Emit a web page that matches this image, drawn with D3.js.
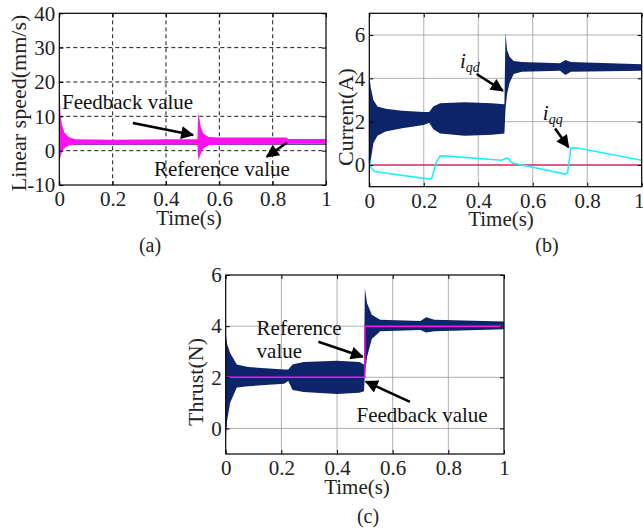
<!DOCTYPE html>
<html lang="en">
<head>
<meta charset="UTF-8">
<title>Speed, current and thrust response</title>
<script src="https://d3js.org/d3.v7.min.js"></script>
<style>
  body { margin: 0; background: #fff; }
  svg { display: block; }
  svg text { font-family: "Liberation Serif", "Times New Roman", Tinos, "DejaVu Serif", serif; }
</style>
</head>
<body>
<svg id="fig" width="643" height="530"></svg>
<script>
// values; ripple bands are kept as envelopes [t, upper, lower]
const timeTicks = [0, 0.2, 0.4, 0.6, 0.8, 1];
const speedTicks = [-10, 0, 10, 20, 30, 40];
const currentTicks = [0, 2, 4, 6];
const thrustTicks = [0, 2, 4, 6];

const speedFeedback = [
  [0, 15.5, -2.8], [0.002, 15, -2.6], [0.005, 10, -1.5], [0.01, 7.5, -0.3], [0.02, 5.2, 0.8],
  [0.035, 4.0, 1.5], [0.06, 3.3, 1.8], [0.2, 3.2, 1.8], [0.4, 3.3, 1.8], [0.518, 3.3, 1.8],
  [0.521, 11, -2.7], [0.524, 10, -2.2], [0.53, 7, -1], [0.54, 5, 0.6], [0.56, 4.0, 1.6],
  [0.6, 3.8, 1.8], [0.85, 3.8, 1.8], [0.86, 3.4, 2.1], [1, 3.4, 2.1]
];
const speedRef = [[0, 1.9], [1, 1.9]];

const iqd = [
  [0, 4.15, -0.4], [0.005, 3.6, 0.2], [0.015, 3.0, 1.0], [0.03, 2.7, 1.35], [0.06, 2.6, 1.55],
  [0.12, 2.5, 1.7], [0.2, 2.45, 1.85], [0.22, 2.45, 1.95], [0.235, 2.7, 1.65], [0.26, 2.85, 1.45],
  [0.35, 2.9, 1.35], [0.45, 2.85, 1.4], [0.496, 2.8, 1.45], [0.5, 6.1, 2.6], [0.506, 5.3, 3.3],
  [0.515, 5.0, 3.8], [0.53, 4.8, 4.2], [0.56, 4.75, 4.3], [0.7, 4.7, 4.35], [0.72, 4.85, 4.15],
  [0.74, 4.75, 4.3], [1, 4.65, 4.35]
];
const iqq = [
  [0, 0.3], [0.005, -0.1], [0.02, -0.3], [0.22, -0.65], [0.23, -0.6], [0.245, 0.1], [0.26, 0.42],
  [0.3, 0.4], [0.485, 0.22], [0.5, 0.3], [0.51, 0.32], [0.52, 0.15], [0.53, 0.08], [0.72, -0.42],
  [0.728, -0.35], [0.74, 0.78], [0.76, 0.8], [1, 0.22]
];
const iqqRef = [[0, 0], [1, 0]];

const thrust = [
  [0, 3.75, -0.4], [0.005, 3.3, 0.3], [0.016, 2.95, 1.0], [0.04, 2.5, 1.6], [0.08, 2.4, 1.65],
  [0.21, 2.3, 1.75], [0.225, 2.3, 1.85], [0.24, 2.5, 1.5], [0.28, 2.6, 1.42], [0.4, 2.65, 1.35],
  [0.48, 2.6, 1.4], [0.497, 2.5, 1.45], [0.5, 5.48, 2.1], [0.508, 4.9, 2.8], [0.525, 4.45, 3.5],
  [0.555, 4.25, 3.8], [0.7, 4.2, 3.85], [0.72, 4.35, 3.75], [0.75, 4.25, 3.8], [1, 4.18, 3.88]
];
const thrustRef = [[0, 2], [0.5, 4], [1, 4]];

const navy = "#0d2468", magenta = "#ff10f0", cyan = "#1ff0f8", crimson = "#e8306a";
const serif = '"Liberation Serif", "Times New Roman", Tinos, "DejaVu Serif", serif';

const svg = d3.select("#fig");

svg.append("defs").append("marker")
  .attr("id", "head").attr("viewBox", "0 0 10 10")
  .attr("refX", 9).attr("refY", 5)
  .attr("markerWidth", 15).attr("markerHeight", 13)
  .attr("markerUnits", "userSpaceOnUse").attr("orient", "auto")
  .append("path").attr("d", "M0,0L10,5L0,10Z").attr("fill", "#000");

function panel(p) {
  const x = d3.scaleLinear().domain([0, 1]).range([p.left, p.right]);
  const y = d3.scaleLinear().domain(p.yDomain).range([p.bottom, p.top]);
  const g = svg.append("g");

  // grid
  const grid = g.append("g").attr("stroke", p.dashed ? "#000" : "#9a9a9a")
    .attr("stroke-width", p.dashed ? 0.9 : 0.8)
    .attr("stroke-dasharray", p.dashed ? "4,3" : null);
  grid.selectAll(".gx").data(timeTicks.slice(1, -1)).join("line")
    .attr("x1", d => x(d)).attr("x2", d => x(d)).attr("y1", p.top).attr("y2", p.bottom);
  grid.selectAll(".gy").data(p.yTicks.filter(d => d > p.yDomain[0] && d < p.yDomain[1])).join("line")
    .attr("y1", d => y(d)).attr("y2", d => y(d)).attr("x1", p.left).attr("x2", p.right);

  p.draw(g, x, y);

  // frame with inward ticks on all sides
  g.append("rect").attr("x", p.left).attr("y", p.top)
    .attr("width", p.right - p.left).attr("height", p.bottom - p.top)
    .attr("fill", "none").attr("stroke", "#000").attr("stroke-width", 1.2);
  const axes = [
    [d3.axisBottom(x).tickValues(timeTicks).tickFormat(d => String(d)), `translate(0,${p.bottom})`, "b"],
    [d3.axisTop(x).tickValues(timeTicks).tickFormat(""), `translate(0,${p.top})`, "t"],
    [d3.axisLeft(y).tickValues(p.yTicks).tickFormat(d => String(d)), `translate(${p.left},0)`, "l"],
    [d3.axisRight(y).tickValues(p.yTicks).tickFormat(""), `translate(${p.right},0)`, "r"]
  ];
  axes.forEach(([ax, tr, side]) => {
    const a = g.append("g").attr("transform", tr).call(ax.tickSize(-4).tickPadding(0));
    a.select(".domain").remove();
    a.attr("font-family", serif);
    a.selectAll("line").attr("stroke", "#000");
    a.selectAll("text").attr("font-family", serif).attr("font-size", 21).attr("fill", "#222");
    if (side === "b") {
      a.selectAll("text").attr("y", 6).attr("dy", "0.71em");
      // last label sits right at the window edge, as in the original
      if (p.lastShift) a.selectAll("text").filter(d => d === 1).attr("x", p.lastShift);
    }
    if (side === "l") a.selectAll("text").attr("x", -4);
  });

  // axis titles
  g.append("text").attr("x", p.xTitleX).attr("y", p.xTitleY).attr("text-anchor", "middle")
    .attr("font-family", serif).attr("font-size", 21).attr("fill", "#222").text("Time(s)");
  g.append("text").attr("transform", `translate(${p.yTitleX},${p.yTitleY}) rotate(-90)`)
    .attr("text-anchor", "middle").attr("font-family", serif).attr("font-size", 22).attr("fill", "#222").text(p.yTitle);
  g.append("text").attr("x", p.capX).attr("y", p.capY).attr("text-anchor", "middle")
    .attr("font-family", serif).attr("font-size", 20).attr("fill", "#222").text(p.caption);

  // annotations
  (p.notes || []).forEach(n => {
    const t = g.append("text").attr("x", x(n.t)).attr("y", y(n.v))
      .attr("font-family", serif).attr("font-size", 21).attr("fill", "#111");
    if (n.sub) {
      t.append("tspan").attr("font-style", "italic").text(n.text);
      t.append("tspan").attr("font-style", "italic").attr("font-size", 14).attr("dy", 4).text(n.sub);
    } else t.text(n.text);
  });
  (p.arrows || []).forEach(a => {
    g.append("line").attr("x1", x(a[0])).attr("y1", y(a[1])).attr("x2", x(a[2])).attr("y2", y(a[3]))
      .attr("stroke", "#000").attr("stroke-width", 2.6).attr("marker-end", "url(#head)");
  });
}

const band = (x, y) => d3.area().x(d => x(d[0])).y0(d => y(d[2])).y1(d => y(d[1]));
const line = (x, y) => d3.line().x(d => x(d[0])).y(d => y(d[1]));

// (a) linear speed
panel({
  left: 59.3, right: 326, top: 13.3, bottom: 185, yDomain: [-10, 40], yTicks: speedTicks, dashed: true,
  yTitle: "Linear speed(mm/s)", yTitleX: 26, yTitleY: 103, xTitleX: 189, xTitleY: 225,
  caption: "(a)", capX: 150, capY: 252,
  notes: [{ text: "Feedback value", t: 0.01, v: 12.1 }, { text: "Reference value", t: 0.355, v: -7.4 }],
  arrows: [[0.276, 8.05, 0.501, 4.56], [0.853, 2.3, 0.778, -1.76]],
  draw: (g, x, y) => {
    g.append("path").datum(speedRef).attr("d", line(x, y)).attr("fill", "none").attr("stroke", navy).attr("stroke-width", 1.4);
    g.append("path").datum(speedFeedback).attr("d", band(x, y)).attr("fill", magenta);
  }
});

// (b) currents
panel({
  left: 369.3, right: 641.7, top: 13.3, bottom: 186.7, yDomain: [-1, 7], yTicks: currentTicks, dashed: false,
  yTitle: "Current(A)", yTitleX: 353, yTitleY: 117, xTitleX: 501, xTitleY: 226, lastShift: -3,
  caption: "(b)", capX: 547, capY: 252,
  notes: [{ text: "i", sub: "qd", t: 0.333, v: 4.47 }, { text: "i", sub: "qq", t: 0.637, v: 2.08 }],
  arrows: [[0.394, 4.2, 0.49, 3.43], [0.682, 1.69, 0.731, 0.82]],
  draw: (g, x, y) => {
    g.append("path").datum(iqd).attr("d", band(x, y)).attr("fill", navy);
    g.append("path").datum(iqqRef).attr("d", line(x, y)).attr("fill", "none").attr("stroke", crimson).attr("stroke-width", 1.5);
    g.append("path").datum(iqq).attr("d", line(x, y)).attr("fill", "none").attr("stroke", cyan).attr("stroke-width", 1.6);
  }
});

// (c) thrust
panel({
  left: 225.7, right: 504, top: 275, bottom: 454, yDomain: [-1, 6], yTicks: thrustTicks, dashed: false,
  yTitle: "Thrust(N)", yTitleX: 203, yTitleY: 382, xTitleX: 357, xTitleY: 494,
  caption: "(c)", capX: 368, capY: 523,
  notes: [{ text: "Reference", t: 0.111, v: 3.65 }, { text: "value", t: 0.111, v: 2.75 },
          { text: "Feedback value", t: 0.47, v: 0.26 }],
  arrows: [[0.333, 3.39, 0.492, 2.8], [0.662, 1.04, 0.504, 1.83]],
  draw: (g, x, y) => {
    g.append("path").datum(thrust).attr("d", band(x, y)).attr("fill", navy);
    g.append("path").datum(thrustRef).attr("d", d3.line().curve(d3.curveStepAfter).x(d => x(d[0])).y(d => y(d[1])))
      .attr("fill", "none").attr("stroke", magenta).attr("stroke-width", 1.5);
  }
});
</script>
</body>
</html>
